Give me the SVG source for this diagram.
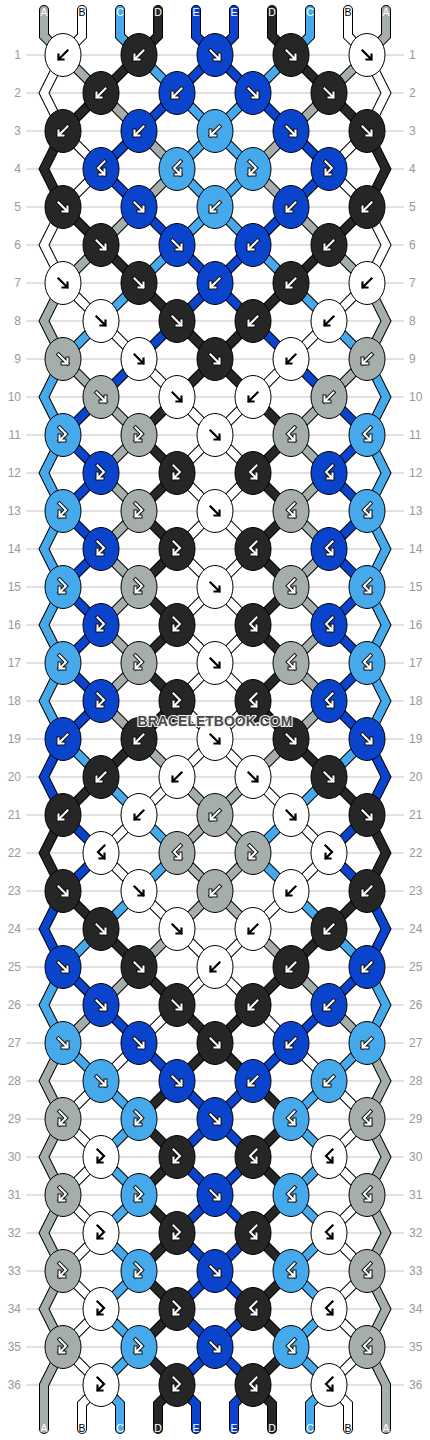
<svg xmlns="http://www.w3.org/2000/svg" width="430" height="1440" viewBox="0 0 430 1440">
<style>
.rl{fill:none;stroke:#c3c3c3;stroke-width:1}
.num{font-family:"Liberation Sans",Arial,sans-serif;font-size:12px;fill:#999}
.o{fill:none;stroke:#000;stroke-width:10;stroke-linejoin:miter;stroke-linecap:round}
.f{fill:none;stroke-width:8;stroke-linejoin:miter;stroke-linecap:round}
.cA{stroke:#a6aeac}.cB{stroke:#fff}.cC{stroke:#45a9ec}.cD{stroke:#262626}.cE{stroke:#0b44cc}
ellipse{stroke:#000;stroke-width:1}
.W{fill:#fff}.K{fill:#262626}.E{fill:#0b44cc}.L{fill:#45a9ec}.G{fill:#a6aeac}
.ab{fill:none;stroke:#000;stroke-width:2.2;stroke-linecap:square;stroke-linejoin:miter}
.ao{fill:none;stroke:#111;stroke-width:4;stroke-linecap:square;stroke-linejoin:miter}
.aw{fill:none;stroke:#fff;stroke-width:2;stroke-linecap:square;stroke-linejoin:miter}
.lab{font-family:"Liberation Sans",Arial,sans-serif;font-size:10.5px;text-anchor:middle;fill:#fff}
.dk{fill:#000}
.wm{font-family:"Liberation Sans",Arial,sans-serif;font-weight:bold;font-size:14px;text-anchor:middle;fill:#4a4a4a;stroke:#f2f2f2;stroke-width:2.2;paint-order:stroke;stroke-linejoin:round}
</style>
<defs>
<path id="pF" d="M-4.5,-4.5L4.5,4.5M-0.5,4.5H4.5V-0.5"/>
<path id="pB" d="M4.5,-4.5L-4.5,4.5M0.5,4.5H-4.5V-0.5"/>
<path id="pFB" d="M-3.5,-7.5L3,-1L-3.5,5.5M-3.5,0.5V5.5H1.5"/>
<path id="pBF" d="M3.5,-7.5L-3,-1L3.5,5.5M3.5,0.5V5.5H-1.5"/>
<g id="bF"><use href="#pF" class="ab"/></g>
<g id="bB"><use href="#pB" class="ab"/></g>
<g id="bFB"><use href="#pFB" class="ab"/></g>
<g id="bBF"><use href="#pBF" class="ab"/></g>
<g id="wF"><use href="#pF" class="ao"/><use href="#pF" class="aw"/></g>
<g id="wB"><use href="#pB" class="ao"/><use href="#pB" class="aw"/></g>
<g id="wFB"><use href="#pFB" class="ao"/><use href="#pFB" class="aw"/></g>
<g id="wBF"><use href="#pBF" class="ao"/><use href="#pBF" class="aw"/></g>
<path id="s0" d="M44,10L44,36L63,55L101,93L139,131L177,169L139,207L101,245L63,283L44,321L63,359L101,397L139,435L101,473L139,511L101,549L139,587L101,625L139,663L101,701L139,739L177,777L215,815L253,853L215,891L177,929L139,967L101,1005L63,1043L44,1081L63,1119L44,1157L63,1195L44,1233L63,1271L44,1309L63,1347L44,1385L44,1429"/>
<path id="s1" d="M82,10L82,36L63,55L44,93L63,131L101,169L63,207L44,245L63,283L101,321L139,359L177,397L215,435L177,473L215,511L177,549L215,587L177,625L215,663L177,701L215,739L253,777L291,815L329,853L291,891L253,929L215,967L177,1005L139,1043L101,1081L63,1119L101,1157L63,1195L101,1233L63,1271L101,1309L63,1347L101,1385L82,1404L82,1429"/>
<path id="s2" d="M120,10L120,36L139,55L177,93L215,131L253,169L215,207L177,245L139,283L101,321L63,359L44,397L63,435L44,473L63,511L44,549L63,587L44,625L63,663L44,701L63,739L101,777L139,815L177,853L139,891L101,929L63,967L44,1005L63,1043L101,1081L139,1119L101,1157L139,1195L101,1233L139,1271L101,1309L139,1347L101,1385L120,1404L120,1429"/>
<path id="s3" d="M158,10L158,36L139,55L101,93L63,131L44,169L63,207L101,245L139,283L177,321L215,359L253,397L291,435L253,473L291,511L253,549L291,587L253,625L291,663L253,701L291,739L329,777L367,815L386,853L367,891L329,929L291,967L253,1005L215,1043L177,1081L139,1119L177,1157L139,1195L177,1233L139,1271L177,1309L139,1347L177,1385L158,1404L158,1429"/>
<path id="s4" d="M196,10L196,36L215,55L253,93L291,131L329,169L291,207L253,245L215,283L177,321L139,359L101,397L63,435L101,473L63,511L101,549L63,587L101,625L63,663L101,701L63,739L44,777L63,815L101,853L63,891L44,929L63,967L101,1005L139,1043L177,1081L215,1119L177,1157L215,1195L177,1233L215,1271L177,1309L215,1347L177,1385L196,1404L196,1429"/>
</defs>
<rect width="430" height="1440" fill="#fff"/>
<g id="rows">
<path class="rl" d="M26,55H404M26,93H404M26,131H404M26,169H404M26,207H404M26,245H404M26,283H404M26,321H404M26,359H404M26,397H404M26,435H404M26,473H404M26,511H404M26,549H404M26,587H404M26,625H404M26,663H404M26,701H404M26,739H404M26,777H404M26,815H404M26,853H404M26,891H404M26,929H404M26,967H404M26,1005H404M26,1043H404M26,1081H404M26,1119H404M26,1157H404M26,1195H404M26,1233H404M26,1271H404M26,1309H404M26,1347H404M26,1385H404"/>
<g class="num" text-anchor="end">
<text x="21" y="59">1</text><text x="21" y="97">2</text><text x="21" y="135">3</text><text x="21" y="173">4</text><text x="21" y="211">5</text><text x="21" y="249">6</text><text x="21" y="287">7</text><text x="21" y="325">8</text><text x="21" y="363">9</text><text x="21" y="401">10</text><text x="21" y="439">11</text><text x="21" y="477">12</text><text x="21" y="515">13</text><text x="21" y="553">14</text><text x="21" y="591">15</text><text x="21" y="629">16</text><text x="21" y="667">17</text><text x="21" y="705">18</text><text x="21" y="743">19</text><text x="21" y="781">20</text><text x="21" y="819">21</text><text x="21" y="857">22</text><text x="21" y="895">23</text><text x="21" y="933">24</text><text x="21" y="971">25</text><text x="21" y="1009">26</text><text x="21" y="1047">27</text><text x="21" y="1085">28</text><text x="21" y="1123">29</text><text x="21" y="1161">30</text><text x="21" y="1199">31</text><text x="21" y="1237">32</text><text x="21" y="1275">33</text><text x="21" y="1313">34</text><text x="21" y="1351">35</text><text x="21" y="1389">36</text>
</g>
<g class="num" text-anchor="start">
<text x="409" y="59">1</text><text x="409" y="97">2</text><text x="409" y="135">3</text><text x="409" y="173">4</text><text x="409" y="211">5</text><text x="409" y="249">6</text><text x="409" y="287">7</text><text x="409" y="325">8</text><text x="409" y="363">9</text><text x="409" y="401">10</text><text x="409" y="439">11</text><text x="409" y="477">12</text><text x="409" y="515">13</text><text x="409" y="553">14</text><text x="409" y="591">15</text><text x="409" y="629">16</text><text x="409" y="667">17</text><text x="409" y="705">18</text><text x="409" y="743">19</text><text x="409" y="781">20</text><text x="409" y="819">21</text><text x="409" y="857">22</text><text x="409" y="895">23</text><text x="409" y="933">24</text><text x="409" y="971">25</text><text x="409" y="1009">26</text><text x="409" y="1047">27</text><text x="409" y="1085">28</text><text x="409" y="1123">29</text><text x="409" y="1161">30</text><text x="409" y="1199">31</text><text x="409" y="1237">32</text><text x="409" y="1275">33</text><text x="409" y="1313">34</text><text x="409" y="1351">35</text><text x="409" y="1389">36</text>
</g>
</g>
<g id="connectors">
<g id="strings-left">
<use href="#s0" class="o"/><use href="#s0" class="f cA"/>
<use href="#s1" class="o"/><use href="#s1" class="f cB"/>
<use href="#s2" class="o"/><use href="#s2" class="f cC"/>
<use href="#s3" class="o"/><use href="#s3" class="f cD"/>
<use href="#s4" class="o"/><use href="#s4" class="f cE"/>
</g>
<use id="strings-right" href="#strings-left" transform="matrix(-1,0,0,1,430,0)"/>
</g>
<g id="knots">
<g id="k1-1" transform="translate(63,55)"><ellipse class="W" rx="18" ry="21.5"/><use href="#bB"/></g>
<g id="k1-2" transform="translate(139,55)"><ellipse class="K" rx="18" ry="21.5"/><use href="#wB"/></g>
<g id="k1-3" transform="translate(215,55)"><ellipse class="E" rx="18" ry="21.5"/><use href="#wF"/></g>
<g id="k1-4" transform="translate(291,55)"><ellipse class="K" rx="18" ry="21.5"/><use href="#wF"/></g>
<g id="k1-5" transform="translate(367,55)"><ellipse class="W" rx="18" ry="21.5"/><use href="#bF"/></g>
<g id="k2-1" transform="translate(101,93)"><ellipse class="K" rx="18" ry="21.5"/><use href="#wB"/></g>
<g id="k2-2" transform="translate(177,93)"><ellipse class="E" rx="18" ry="21.5"/><use href="#wB"/></g>
<g id="k2-3" transform="translate(253,93)"><ellipse class="E" rx="18" ry="21.5"/><use href="#wF"/></g>
<g id="k2-4" transform="translate(329,93)"><ellipse class="K" rx="18" ry="21.5"/><use href="#wF"/></g>
<g id="k3-1" transform="translate(63,131)"><ellipse class="K" rx="18" ry="21.5"/><use href="#wB"/></g>
<g id="k3-2" transform="translate(139,131)"><ellipse class="E" rx="18" ry="21.5"/><use href="#wB"/></g>
<g id="k3-3" transform="translate(215,131)"><ellipse class="L" rx="18" ry="21.5"/><use href="#wB"/></g>
<g id="k3-4" transform="translate(291,131)"><ellipse class="E" rx="18" ry="21.5"/><use href="#wF"/></g>
<g id="k3-5" transform="translate(367,131)"><ellipse class="K" rx="18" ry="21.5"/><use href="#wF"/></g>
<g id="k4-1" transform="translate(101,169)"><ellipse class="E" rx="18" ry="21.5"/><use href="#wBF"/></g>
<g id="k4-2" transform="translate(177,169)"><ellipse class="L" rx="18" ry="21.5"/><use href="#wBF"/></g>
<g id="k4-3" transform="translate(253,169)"><ellipse class="L" rx="18" ry="21.5"/><use href="#wFB"/></g>
<g id="k4-4" transform="translate(329,169)"><ellipse class="E" rx="18" ry="21.5"/><use href="#wFB"/></g>
<g id="k5-1" transform="translate(63,207)"><ellipse class="K" rx="18" ry="21.5"/><use href="#wF"/></g>
<g id="k5-2" transform="translate(139,207)"><ellipse class="E" rx="18" ry="21.5"/><use href="#wF"/></g>
<g id="k5-3" transform="translate(215,207)"><ellipse class="L" rx="18" ry="21.5"/><use href="#wB"/></g>
<g id="k5-4" transform="translate(291,207)"><ellipse class="E" rx="18" ry="21.5"/><use href="#wB"/></g>
<g id="k5-5" transform="translate(367,207)"><ellipse class="K" rx="18" ry="21.5"/><use href="#wB"/></g>
<g id="k6-1" transform="translate(101,245)"><ellipse class="K" rx="18" ry="21.5"/><use href="#wF"/></g>
<g id="k6-2" transform="translate(177,245)"><ellipse class="E" rx="18" ry="21.5"/><use href="#wF"/></g>
<g id="k6-3" transform="translate(253,245)"><ellipse class="E" rx="18" ry="21.5"/><use href="#wB"/></g>
<g id="k6-4" transform="translate(329,245)"><ellipse class="K" rx="18" ry="21.5"/><use href="#wB"/></g>
<g id="k7-1" transform="translate(63,283)"><ellipse class="W" rx="18" ry="21.5"/><use href="#bF"/></g>
<g id="k7-2" transform="translate(139,283)"><ellipse class="K" rx="18" ry="21.5"/><use href="#wF"/></g>
<g id="k7-3" transform="translate(215,283)"><ellipse class="E" rx="18" ry="21.5"/><use href="#wB"/></g>
<g id="k7-4" transform="translate(291,283)"><ellipse class="K" rx="18" ry="21.5"/><use href="#wB"/></g>
<g id="k7-5" transform="translate(367,283)"><ellipse class="W" rx="18" ry="21.5"/><use href="#bB"/></g>
<g id="k8-1" transform="translate(101,321)"><ellipse class="W" rx="18" ry="21.5"/><use href="#bF"/></g>
<g id="k8-2" transform="translate(177,321)"><ellipse class="K" rx="18" ry="21.5"/><use href="#wF"/></g>
<g id="k8-3" transform="translate(253,321)"><ellipse class="K" rx="18" ry="21.5"/><use href="#wB"/></g>
<g id="k8-4" transform="translate(329,321)"><ellipse class="W" rx="18" ry="21.5"/><use href="#bB"/></g>
<g id="k9-1" transform="translate(63,359)"><ellipse class="G" rx="18" ry="21.5"/><use href="#wF"/></g>
<g id="k9-2" transform="translate(139,359)"><ellipse class="W" rx="18" ry="21.5"/><use href="#bF"/></g>
<g id="k9-3" transform="translate(215,359)"><ellipse class="K" rx="18" ry="21.5"/><use href="#wF"/></g>
<g id="k9-4" transform="translate(291,359)"><ellipse class="W" rx="18" ry="21.5"/><use href="#bB"/></g>
<g id="k9-5" transform="translate(367,359)"><ellipse class="G" rx="18" ry="21.5"/><use href="#wB"/></g>
<g id="k10-1" transform="translate(101,397)"><ellipse class="G" rx="18" ry="21.5"/><use href="#wF"/></g>
<g id="k10-2" transform="translate(177,397)"><ellipse class="W" rx="18" ry="21.5"/><use href="#bF"/></g>
<g id="k10-3" transform="translate(253,397)"><ellipse class="W" rx="18" ry="21.5"/><use href="#bB"/></g>
<g id="k10-4" transform="translate(329,397)"><ellipse class="G" rx="18" ry="21.5"/><use href="#wB"/></g>
<g id="k11-1" transform="translate(63,435)"><ellipse class="L" rx="18" ry="21.5"/><use href="#wFB"/></g>
<g id="k11-2" transform="translate(139,435)"><ellipse class="G" rx="18" ry="21.5"/><use href="#wFB"/></g>
<g id="k11-3" transform="translate(215,435)"><ellipse class="W" rx="18" ry="21.5"/><use href="#bF"/></g>
<g id="k11-4" transform="translate(291,435)"><ellipse class="G" rx="18" ry="21.5"/><use href="#wBF"/></g>
<g id="k11-5" transform="translate(367,435)"><ellipse class="L" rx="18" ry="21.5"/><use href="#wBF"/></g>
<g id="k12-1" transform="translate(101,473)"><ellipse class="E" rx="18" ry="21.5"/><use href="#wFB"/></g>
<g id="k12-2" transform="translate(177,473)"><ellipse class="K" rx="18" ry="21.5"/><use href="#wFB"/></g>
<g id="k12-3" transform="translate(253,473)"><ellipse class="K" rx="18" ry="21.5"/><use href="#wBF"/></g>
<g id="k12-4" transform="translate(329,473)"><ellipse class="E" rx="18" ry="21.5"/><use href="#wBF"/></g>
<g id="k13-1" transform="translate(63,511)"><ellipse class="L" rx="18" ry="21.5"/><use href="#wFB"/></g>
<g id="k13-2" transform="translate(139,511)"><ellipse class="G" rx="18" ry="21.5"/><use href="#wFB"/></g>
<g id="k13-3" transform="translate(215,511)"><ellipse class="W" rx="18" ry="21.5"/><use href="#bF"/></g>
<g id="k13-4" transform="translate(291,511)"><ellipse class="G" rx="18" ry="21.5"/><use href="#wBF"/></g>
<g id="k13-5" transform="translate(367,511)"><ellipse class="L" rx="18" ry="21.5"/><use href="#wBF"/></g>
<g id="k14-1" transform="translate(101,549)"><ellipse class="E" rx="18" ry="21.5"/><use href="#wFB"/></g>
<g id="k14-2" transform="translate(177,549)"><ellipse class="K" rx="18" ry="21.5"/><use href="#wFB"/></g>
<g id="k14-3" transform="translate(253,549)"><ellipse class="K" rx="18" ry="21.5"/><use href="#wBF"/></g>
<g id="k14-4" transform="translate(329,549)"><ellipse class="E" rx="18" ry="21.5"/><use href="#wBF"/></g>
<g id="k15-1" transform="translate(63,587)"><ellipse class="L" rx="18" ry="21.5"/><use href="#wFB"/></g>
<g id="k15-2" transform="translate(139,587)"><ellipse class="G" rx="18" ry="21.5"/><use href="#wFB"/></g>
<g id="k15-3" transform="translate(215,587)"><ellipse class="W" rx="18" ry="21.5"/><use href="#bF"/></g>
<g id="k15-4" transform="translate(291,587)"><ellipse class="G" rx="18" ry="21.5"/><use href="#wBF"/></g>
<g id="k15-5" transform="translate(367,587)"><ellipse class="L" rx="18" ry="21.5"/><use href="#wBF"/></g>
<g id="k16-1" transform="translate(101,625)"><ellipse class="E" rx="18" ry="21.5"/><use href="#wFB"/></g>
<g id="k16-2" transform="translate(177,625)"><ellipse class="K" rx="18" ry="21.5"/><use href="#wFB"/></g>
<g id="k16-3" transform="translate(253,625)"><ellipse class="K" rx="18" ry="21.5"/><use href="#wBF"/></g>
<g id="k16-4" transform="translate(329,625)"><ellipse class="E" rx="18" ry="21.5"/><use href="#wBF"/></g>
<g id="k17-1" transform="translate(63,663)"><ellipse class="L" rx="18" ry="21.5"/><use href="#wFB"/></g>
<g id="k17-2" transform="translate(139,663)"><ellipse class="G" rx="18" ry="21.5"/><use href="#wFB"/></g>
<g id="k17-3" transform="translate(215,663)"><ellipse class="W" rx="18" ry="21.5"/><use href="#bF"/></g>
<g id="k17-4" transform="translate(291,663)"><ellipse class="G" rx="18" ry="21.5"/><use href="#wBF"/></g>
<g id="k17-5" transform="translate(367,663)"><ellipse class="L" rx="18" ry="21.5"/><use href="#wBF"/></g>
<g id="k18-1" transform="translate(101,701)"><ellipse class="E" rx="18" ry="21.5"/><use href="#wFB"/></g>
<g id="k18-2" transform="translate(177,701)"><ellipse class="K" rx="18" ry="21.5"/><use href="#wFB"/></g>
<g id="k18-3" transform="translate(253,701)"><ellipse class="K" rx="18" ry="21.5"/><use href="#wBF"/></g>
<g id="k18-4" transform="translate(329,701)"><ellipse class="E" rx="18" ry="21.5"/><use href="#wBF"/></g>
<g id="k19-1" transform="translate(63,739)"><ellipse class="E" rx="18" ry="21.5"/><use href="#wB"/></g>
<g id="k19-2" transform="translate(139,739)"><ellipse class="K" rx="18" ry="21.5"/><use href="#wB"/></g>
<g id="k19-3" transform="translate(215,739)"><ellipse class="W" rx="18" ry="21.5"/><use href="#bF"/></g>
<g id="k19-4" transform="translate(291,739)"><ellipse class="K" rx="18" ry="21.5"/><use href="#wF"/></g>
<g id="k19-5" transform="translate(367,739)"><ellipse class="E" rx="18" ry="21.5"/><use href="#wF"/></g>
<g id="k20-1" transform="translate(101,777)"><ellipse class="K" rx="18" ry="21.5"/><use href="#wB"/></g>
<g id="k20-2" transform="translate(177,777)"><ellipse class="W" rx="18" ry="21.5"/><use href="#bB"/></g>
<g id="k20-3" transform="translate(253,777)"><ellipse class="W" rx="18" ry="21.5"/><use href="#bF"/></g>
<g id="k20-4" transform="translate(329,777)"><ellipse class="K" rx="18" ry="21.5"/><use href="#wF"/></g>
<g id="k21-1" transform="translate(63,815)"><ellipse class="K" rx="18" ry="21.5"/><use href="#wB"/></g>
<g id="k21-2" transform="translate(139,815)"><ellipse class="W" rx="18" ry="21.5"/><use href="#bB"/></g>
<g id="k21-3" transform="translate(215,815)"><ellipse class="G" rx="18" ry="21.5"/><use href="#wB"/></g>
<g id="k21-4" transform="translate(291,815)"><ellipse class="W" rx="18" ry="21.5"/><use href="#bF"/></g>
<g id="k21-5" transform="translate(367,815)"><ellipse class="K" rx="18" ry="21.5"/><use href="#wF"/></g>
<g id="k22-1" transform="translate(101,853)"><ellipse class="W" rx="18" ry="21.5"/><use href="#bBF"/></g>
<g id="k22-2" transform="translate(177,853)"><ellipse class="G" rx="18" ry="21.5"/><use href="#wBF"/></g>
<g id="k22-3" transform="translate(253,853)"><ellipse class="G" rx="18" ry="21.5"/><use href="#wFB"/></g>
<g id="k22-4" transform="translate(329,853)"><ellipse class="W" rx="18" ry="21.5"/><use href="#bFB"/></g>
<g id="k23-1" transform="translate(63,891)"><ellipse class="K" rx="18" ry="21.5"/><use href="#wF"/></g>
<g id="k23-2" transform="translate(139,891)"><ellipse class="W" rx="18" ry="21.5"/><use href="#bF"/></g>
<g id="k23-3" transform="translate(215,891)"><ellipse class="G" rx="18" ry="21.5"/><use href="#wB"/></g>
<g id="k23-4" transform="translate(291,891)"><ellipse class="W" rx="18" ry="21.5"/><use href="#bB"/></g>
<g id="k23-5" transform="translate(367,891)"><ellipse class="K" rx="18" ry="21.5"/><use href="#wB"/></g>
<g id="k24-1" transform="translate(101,929)"><ellipse class="K" rx="18" ry="21.5"/><use href="#wF"/></g>
<g id="k24-2" transform="translate(177,929)"><ellipse class="W" rx="18" ry="21.5"/><use href="#bF"/></g>
<g id="k24-3" transform="translate(253,929)"><ellipse class="W" rx="18" ry="21.5"/><use href="#bB"/></g>
<g id="k24-4" transform="translate(329,929)"><ellipse class="K" rx="18" ry="21.5"/><use href="#wB"/></g>
<g id="k25-1" transform="translate(63,967)"><ellipse class="E" rx="18" ry="21.5"/><use href="#wF"/></g>
<g id="k25-2" transform="translate(139,967)"><ellipse class="K" rx="18" ry="21.5"/><use href="#wF"/></g>
<g id="k25-3" transform="translate(215,967)"><ellipse class="W" rx="18" ry="21.5"/><use href="#bB"/></g>
<g id="k25-4" transform="translate(291,967)"><ellipse class="K" rx="18" ry="21.5"/><use href="#wB"/></g>
<g id="k25-5" transform="translate(367,967)"><ellipse class="E" rx="18" ry="21.5"/><use href="#wB"/></g>
<g id="k26-1" transform="translate(101,1005)"><ellipse class="E" rx="18" ry="21.5"/><use href="#wF"/></g>
<g id="k26-2" transform="translate(177,1005)"><ellipse class="K" rx="18" ry="21.5"/><use href="#wF"/></g>
<g id="k26-3" transform="translate(253,1005)"><ellipse class="K" rx="18" ry="21.5"/><use href="#wB"/></g>
<g id="k26-4" transform="translate(329,1005)"><ellipse class="E" rx="18" ry="21.5"/><use href="#wB"/></g>
<g id="k27-1" transform="translate(63,1043)"><ellipse class="L" rx="18" ry="21.5"/><use href="#wF"/></g>
<g id="k27-2" transform="translate(139,1043)"><ellipse class="E" rx="18" ry="21.5"/><use href="#wF"/></g>
<g id="k27-3" transform="translate(215,1043)"><ellipse class="K" rx="18" ry="21.5"/><use href="#wF"/></g>
<g id="k27-4" transform="translate(291,1043)"><ellipse class="E" rx="18" ry="21.5"/><use href="#wB"/></g>
<g id="k27-5" transform="translate(367,1043)"><ellipse class="L" rx="18" ry="21.5"/><use href="#wB"/></g>
<g id="k28-1" transform="translate(101,1081)"><ellipse class="L" rx="18" ry="21.5"/><use href="#wF"/></g>
<g id="k28-2" transform="translate(177,1081)"><ellipse class="E" rx="18" ry="21.5"/><use href="#wF"/></g>
<g id="k28-3" transform="translate(253,1081)"><ellipse class="E" rx="18" ry="21.5"/><use href="#wB"/></g>
<g id="k28-4" transform="translate(329,1081)"><ellipse class="L" rx="18" ry="21.5"/><use href="#wB"/></g>
<g id="k29-1" transform="translate(63,1119)"><ellipse class="G" rx="18" ry="21.5"/><use href="#wFB"/></g>
<g id="k29-2" transform="translate(139,1119)"><ellipse class="L" rx="18" ry="21.5"/><use href="#wFB"/></g>
<g id="k29-3" transform="translate(215,1119)"><ellipse class="E" rx="18" ry="21.5"/><use href="#wF"/></g>
<g id="k29-4" transform="translate(291,1119)"><ellipse class="L" rx="18" ry="21.5"/><use href="#wBF"/></g>
<g id="k29-5" transform="translate(367,1119)"><ellipse class="G" rx="18" ry="21.5"/><use href="#wBF"/></g>
<g id="k30-1" transform="translate(101,1157)"><ellipse class="W" rx="18" ry="21.5"/><use href="#bFB"/></g>
<g id="k30-2" transform="translate(177,1157)"><ellipse class="K" rx="18" ry="21.5"/><use href="#wFB"/></g>
<g id="k30-3" transform="translate(253,1157)"><ellipse class="K" rx="18" ry="21.5"/><use href="#wBF"/></g>
<g id="k30-4" transform="translate(329,1157)"><ellipse class="W" rx="18" ry="21.5"/><use href="#bBF"/></g>
<g id="k31-1" transform="translate(63,1195)"><ellipse class="G" rx="18" ry="21.5"/><use href="#wFB"/></g>
<g id="k31-2" transform="translate(139,1195)"><ellipse class="L" rx="18" ry="21.5"/><use href="#wFB"/></g>
<g id="k31-3" transform="translate(215,1195)"><ellipse class="E" rx="18" ry="21.5"/><use href="#wF"/></g>
<g id="k31-4" transform="translate(291,1195)"><ellipse class="L" rx="18" ry="21.5"/><use href="#wBF"/></g>
<g id="k31-5" transform="translate(367,1195)"><ellipse class="G" rx="18" ry="21.5"/><use href="#wBF"/></g>
<g id="k32-1" transform="translate(101,1233)"><ellipse class="W" rx="18" ry="21.5"/><use href="#bFB"/></g>
<g id="k32-2" transform="translate(177,1233)"><ellipse class="K" rx="18" ry="21.5"/><use href="#wFB"/></g>
<g id="k32-3" transform="translate(253,1233)"><ellipse class="K" rx="18" ry="21.5"/><use href="#wBF"/></g>
<g id="k32-4" transform="translate(329,1233)"><ellipse class="W" rx="18" ry="21.5"/><use href="#bBF"/></g>
<g id="k33-1" transform="translate(63,1271)"><ellipse class="G" rx="18" ry="21.5"/><use href="#wFB"/></g>
<g id="k33-2" transform="translate(139,1271)"><ellipse class="L" rx="18" ry="21.5"/><use href="#wFB"/></g>
<g id="k33-3" transform="translate(215,1271)"><ellipse class="E" rx="18" ry="21.5"/><use href="#wF"/></g>
<g id="k33-4" transform="translate(291,1271)"><ellipse class="L" rx="18" ry="21.5"/><use href="#wBF"/></g>
<g id="k33-5" transform="translate(367,1271)"><ellipse class="G" rx="18" ry="21.5"/><use href="#wBF"/></g>
<g id="k34-1" transform="translate(101,1309)"><ellipse class="W" rx="18" ry="21.5"/><use href="#bFB"/></g>
<g id="k34-2" transform="translate(177,1309)"><ellipse class="K" rx="18" ry="21.5"/><use href="#wFB"/></g>
<g id="k34-3" transform="translate(253,1309)"><ellipse class="K" rx="18" ry="21.5"/><use href="#wBF"/></g>
<g id="k34-4" transform="translate(329,1309)"><ellipse class="W" rx="18" ry="21.5"/><use href="#bBF"/></g>
<g id="k35-1" transform="translate(63,1347)"><ellipse class="G" rx="18" ry="21.5"/><use href="#wFB"/></g>
<g id="k35-2" transform="translate(139,1347)"><ellipse class="L" rx="18" ry="21.5"/><use href="#wFB"/></g>
<g id="k35-3" transform="translate(215,1347)"><ellipse class="E" rx="18" ry="21.5"/><use href="#wF"/></g>
<g id="k35-4" transform="translate(291,1347)"><ellipse class="L" rx="18" ry="21.5"/><use href="#wBF"/></g>
<g id="k35-5" transform="translate(367,1347)"><ellipse class="G" rx="18" ry="21.5"/><use href="#wBF"/></g>
<g id="k36-1" transform="translate(101,1385)"><ellipse class="W" rx="18" ry="21.5"/><use href="#bFB"/></g>
<g id="k36-2" transform="translate(177,1385)"><ellipse class="K" rx="18" ry="21.5"/><use href="#wFB"/></g>
<g id="k36-3" transform="translate(253,1385)"><ellipse class="K" rx="18" ry="21.5"/><use href="#wBF"/></g>
<g id="k36-4" transform="translate(329,1385)"><ellipse class="W" rx="18" ry="21.5"/><use href="#bBF"/></g>
</g>
<g id="string-labels">
<text class="lab" x="44" y="16">A</text><text class="lab dk" x="82" y="16">B</text><text class="lab" x="120" y="16">C</text><text class="lab" x="158" y="16">D</text><text class="lab" x="196" y="16">E</text><text class="lab" x="234" y="16">E</text><text class="lab" x="272" y="16">D</text><text class="lab" x="310" y="16">C</text><text class="lab dk" x="348" y="16">B</text><text class="lab" x="386" y="16">A</text>
<text class="lab" x="44" y="1432">A</text><text class="lab dk" x="82" y="1432">B</text><text class="lab" x="120" y="1432">C</text><text class="lab" x="158" y="1432">D</text><text class="lab" x="196" y="1432">E</text><text class="lab" x="234" y="1432">E</text><text class="lab" x="272" y="1432">D</text><text class="lab" x="310" y="1432">C</text><text class="lab dk" x="348" y="1432">B</text><text class="lab" x="386" y="1432">A</text>
</g>
<text id="watermark" class="wm" x="215" y="726">BRACELETBOOK.COM</text>
</svg>
